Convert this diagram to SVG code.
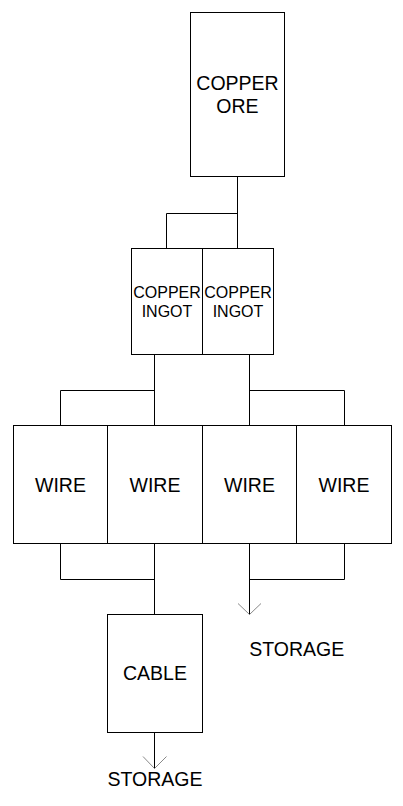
<svg xmlns="http://www.w3.org/2000/svg" width="403" height="806" viewBox="0 0 403 806">
<style>
.box{fill:#fff;stroke:#000;stroke-width:1}
.t{font-family:"Liberation Sans",Arial,sans-serif;font-size:19.5px;fill:#000;text-anchor:middle}
.s{font-size:16px}
.c{fill:none;stroke:#000;stroke-width:1}
.ah{fill:none;stroke:#888;stroke-width:1}
</style>
<rect width="403" height="806" fill="#fff"/>
<g id="connectors">
<path class="c" d="M237.5,176.5V248.5M237.5,213.5H166.5V248.5"/>
<path class="c" d="M154.5,354.5V425.5M154.5,390.5H60.5V425.5"/>
<path class="c" d="M249.5,354.5V425.5M249.5,390.5H344.5V425.5"/>
<path class="c" d="M60.5,543.5V579.5H154.5M154.5,543.5V614.5"/>
<path class="c" d="M344.5,543.5V579.5H249.5M249.5,543.5V614.5"/>
<path class="ah" d="M238,603.5L249.5,614.5L261,603.5"/>
<path class="c" d="M154.5,732.5V768.5"/>
<path class="ah" d="M143,756.5L154.5,768.5L166.5,756.5"/>
</g>
<g id="ore"><rect class="box" x="190.5" y="12.5" width="94" height="164"/><text class="t" x="237.5" y="90">COPPER</text><text class="t" x="237.5" y="112.5">ORE</text></g>
<g id="ingot1"><rect class="box" x="131.5" y="248.5" width="71" height="106"/><text class="t s" x="167" y="298">COPPER</text><text class="t s" x="167" y="317">INGOT</text></g>
<g id="ingot2"><rect class="box" x="202.5" y="248.5" width="71" height="106"/><text class="t s" x="238" y="298">COPPER</text><text class="t s" x="238" y="317">INGOT</text></g>
<g id="wire1"><rect class="box" x="13.5" y="425.5" width="94" height="118"/><text class="t" x="60.5" y="492.3">WIRE</text></g>
<g id="wire2"><rect class="box" x="107.5" y="425.5" width="95" height="118"/><text class="t" x="155" y="492.3">WIRE</text></g>
<g id="wire3"><rect class="box" x="202.5" y="425.5" width="94" height="118"/><text class="t" x="249.5" y="492.3">WIRE</text></g>
<g id="wire4"><rect class="box" x="296.5" y="425.5" width="95" height="118"/><text class="t" x="344" y="492.3">WIRE</text></g>
<g id="cable"><rect class="box" x="107.5" y="614.5" width="95" height="118"/><text class="t" x="155" y="680">CABLE</text></g>
<g id="storage1"><text class="t" x="296.8" y="656">STORAGE</text></g>
<g id="storage2"><text class="t" x="155" y="786">STORAGE</text></g>
</svg>
